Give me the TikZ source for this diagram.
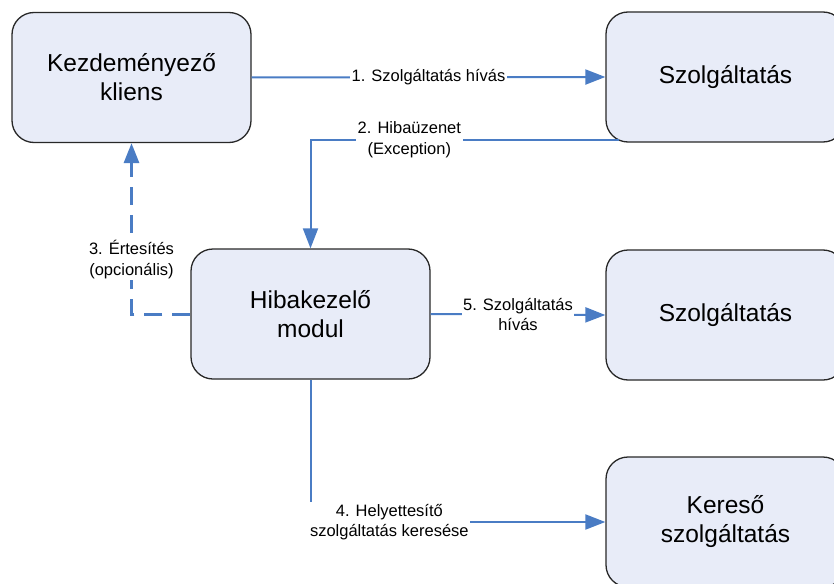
\documentclass[tikz,border=0pt]{standalone}
\usepackage{fontspec}
\setmainfont{Liberation Sans}
\usetikzlibrary{arrows.meta,calc}

\definecolor{boxfill}{RGB}{232,236,248}
\definecolor{boxline}{RGB}{40,40,40}
\definecolor{flow}{RGB}{74,124,196}

\tikzset{
  procbox/.style={draw=boxline, line width=1.3pt, fill=boxfill,
    rounded corners=22pt, minimum width=239pt, minimum height=130pt,
    align=center, inner sep=0pt, font=\fontsize{24.5}{29}\selectfont},
  flowline/.style={draw=flow, line width=2pt,
    -{Triangle[length=20pt,width=15pt]}},
  optline/.style={flowline, line width=3pt, dash pattern=on 18pt off 10pt},
  flowlabel/.style={fill=white, align=center, inner sep=1.5pt,
    font=\fontsize{16.5}{20.5}\selectfont}
}

\begin{document}
\begin{tikzpicture}[x=1pt, y=-1pt]
  \useasboundingbox (0,0) rectangle (834,583);
  \begin{scope}
    \clip (0,0) rectangle (834,583);

    % process boxes
    \node[procbox] (client)  at (131.5,77.5)  {Kezdeményező\\kliens};
    \node[procbox] (svcA)    at (725.5,77)  {Szolgáltatás};
    \node[procbox] (handler) at (310.5,314) {Hibakezelő\\modul};
    \node[procbox] (svcB)    at (725.5,315) {Szolgáltatás};
    \node[procbox] (finder)  at (725.5,522) {Kereső\\szolgáltatás};

    % 1: service call
    \draw[flowline] (client.east) -- node[flowlabel] {1. Szolgáltatás hívás} (svcA.west);

    % 2: error message back to the handler
    \coordinate (errstart) at ($(svcA.south west)+(14,-3)$);
    \draw[flowline] (errstart) -| node[flowlabel, pos=0.34] {2. Hibaüzenet\\(Exception)} (handler.north);

    % 3: optional notification of the client
    \draw[optline] (handler.west) -| node[flowlabel, pos=0.66] {3. Értesítés\\(opcionális)} (client.south);

    % 4: look up a replacement service
    \draw[flowline] (handler.south) |- node[flowlabel, pos=0.5, anchor=west, xshift=-3pt] {4. Helyettesítő\\szolgáltatás keresése} (finder.west);

    % 5: call the replacement service
    \draw[flowline] (handler.east) -- node[flowlabel] {5. Szolgáltatás\\hívás} (svcB.west);
  \end{scope}
\end{tikzpicture}
\end{document}
